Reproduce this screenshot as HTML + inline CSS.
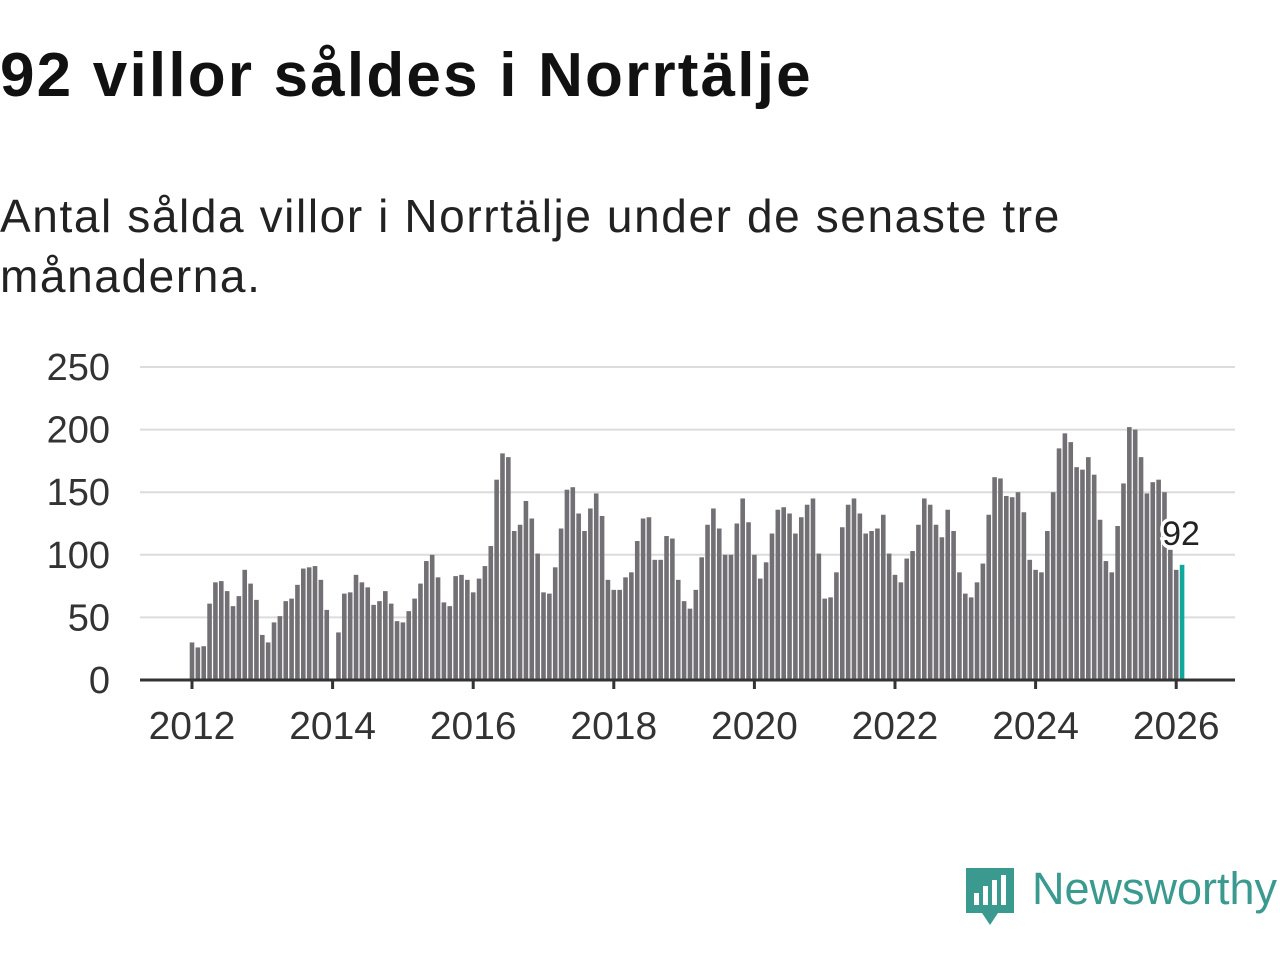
<!DOCTYPE html>
<html><head><meta charset="utf-8"><style>
body{margin:0;background:#fff;font-family:"Liberation Sans","DejaVu Sans",sans-serif;}
#wrap{position:relative;width:1280px;height:960px;overflow:hidden;}
h1{position:absolute;left:0;top:40px;margin:0;font-size:62px;font-weight:bold;color:#111;letter-spacing:2.2px;}
p.sub{position:absolute;left:0;top:186px;margin:0;font-size:46px;line-height:60px;color:#222;width:1090px;letter-spacing:1.6px;}
svg{position:absolute;left:0;top:0;}
</style></head><body><div id="wrap">
<h1>92 villor såldes i Norrtälje</h1>
<p class="sub">Antal sålda villor i Norrtälje under de senaste tre månaderna.</p>
<svg id="chart" width="1280" height="960"></svg>
</div>
<script>
const startYear = 2012;
const values = [
30,26,27,61,78,79,71,59,67,88,77,64,
36,30,46,51,63,65,76,89,90,91,80,56,
0,38,69,70,84,78,74,60,63,71,61,47,
46,55,65,77,95,100,82,62,59,83,84,80,
70,81,91,107,160,181,178,119,124,143,129,101,
70,69,90,121,152,154,133,119,137,149,131,80,
72,72,82,86,111,129,130,96,96,115,113,80,
63,57,72,98,124,137,121,100,100,125,145,126,
100,81,94,117,136,138,133,117,130,140,145,101,
65,66,86,122,140,145,133,117,119,121,132,101,
84,78,97,103,124,145,140,124,114,136,119,86,
69,66,78,93,132,162,161,147,146,150,134,96,
88,86,119,150,185,197,190,170,168,178,164,128,
95,86,123,157,202,200,178,149,158,160,150,104,
88,92];
const yTicks = [0,50,100,150,200,250];
const xTickYears = [2012,2014,2016,2018,2020,2022,2024,2026];

const NS="http://www.w3.org/2000/svg";
const svg=document.getElementById('chart');
const x0=192, monthW=70.3/12, yBase=680, yTop=367, yMax=250, left=140, right=1235;
function xs(i){return x0+i*monthW;}
function ys(v){return yBase-(v/yMax)*(yBase-yTop);}
function mk(tag,attrs){const e=document.createElementNS(NS,tag);for(const k in attrs)e.setAttribute(k,attrs[k]);svg.appendChild(e);return e;}
yTicks.forEach(t=>{
  if(t>0){const g=mk('line',{x1:left,x2:right,y1:ys(t),y2:ys(t),stroke:'#dcdcdc','stroke-width':2});
  
  }
  const l=mk('text',{x:110,y:ys(t)+13,'text-anchor':'end','font-size':38,fill:'#333','font-family':'Liberation Sans, sans-serif'});
  l.textContent=t;
  
  
});
values.forEach((v,i)=>{
  const last=i===values.length-1;
  const r=mk('rect',{x:xs(i)-2.3,y:ys(v),width:4.6,height:yBase-ys(v),fill:last?'#12a79d':'#727075'});
  
  
});
const ax=mk('line',{x1:left,x2:right,y1:yBase,y2:yBase,stroke:'#333','stroke-width':3});


xTickYears.forEach(y=>{
  const xi=xs((y-startYear)*12);
  const t=mk('line',{x1:xi,x2:xi,y1:yBase,y2:yBase+9,stroke:'#333','stroke-width':3});
  
  
  const l=mk('text',{x:xi,y:739,'text-anchor':'middle','font-size':39,fill:'#333','font-family':'Liberation Sans, sans-serif'});
  l.textContent=y;
  
  
});
const li=values.length-1;
const lab=mk('text',{x:xs(li)-1,y:ys(values[li])-20,'text-anchor':'middle','font-size':34,fill:'#222',stroke:'#fff','stroke-width':7,'paint-order':'stroke','font-family':'Liberation Sans, sans-serif'});
lab.textContent=values[li];


</script>
<svg width="1280" height="960" style="position:absolute;left:0;top:0;pointer-events:none">
<path d="M966 868 h48 v45 h-16 l-8 12 l-8 -12 h-16 z" fill="#3a9a8f" />
<rect x="974" y="893" width="5" height="12" fill="#fff"/><rect x="983" y="886" width="5" height="19" fill="#fff"/><rect x="992" y="880" width="5" height="25" fill="#fff"/><rect x="1001" y="875" width="5" height="30" fill="#fff"/>
<text x="1032" y="904" font-size="45" fill="#3a9a8f" font-family="Liberation Sans, sans-serif">Newsworthy</text>
</svg>
</body></html>
